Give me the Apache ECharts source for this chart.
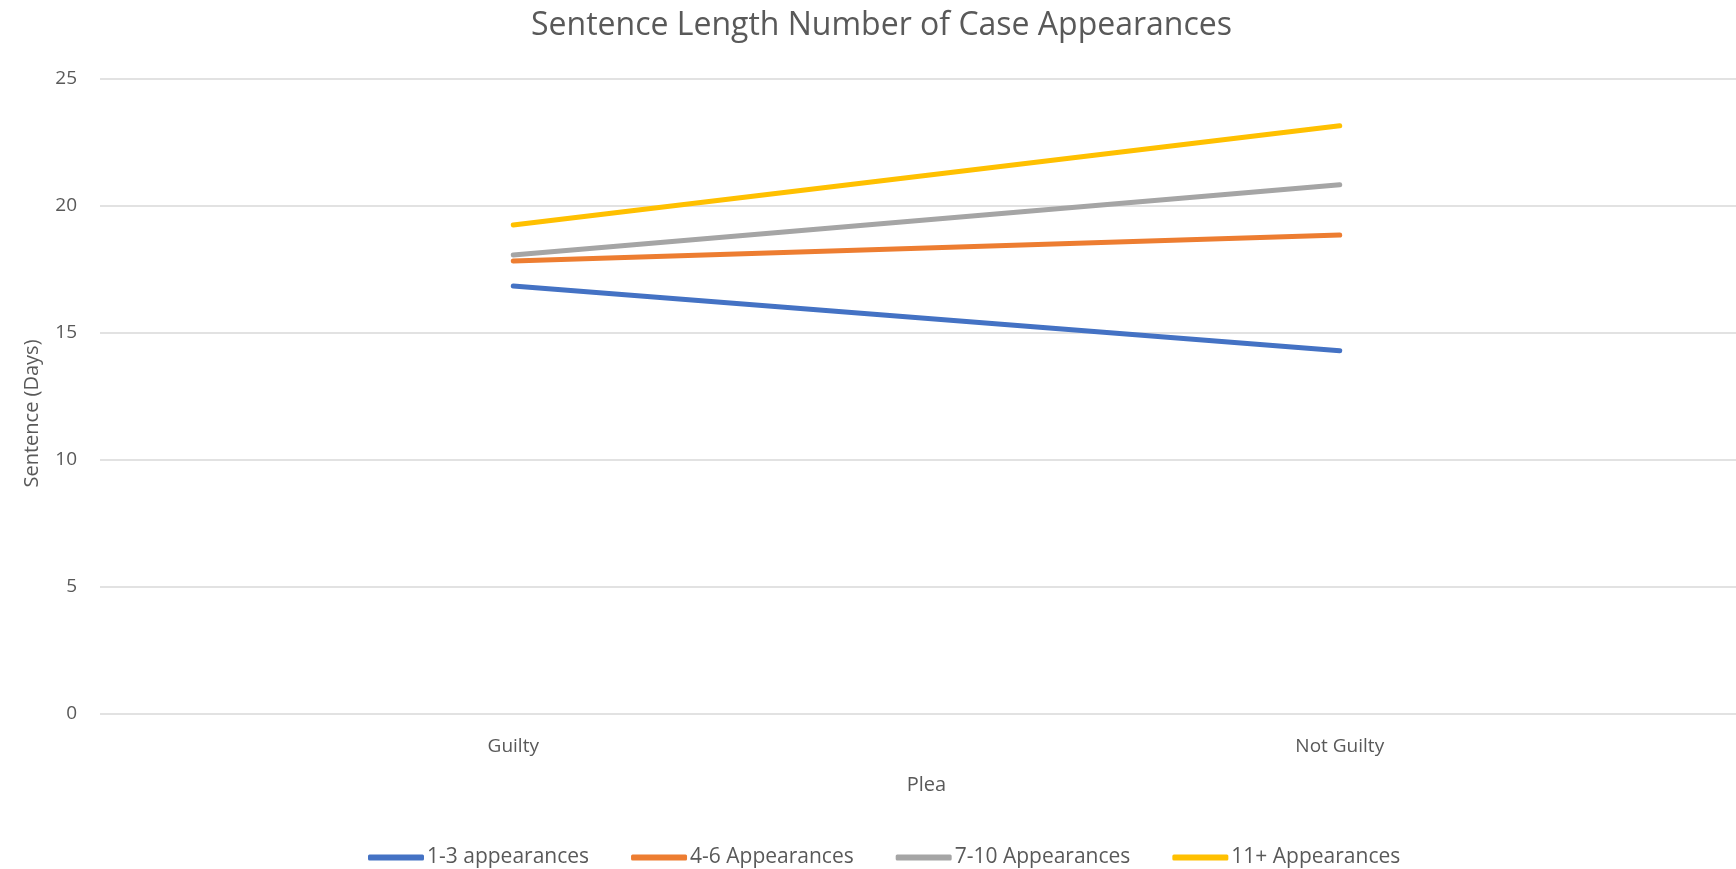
<!DOCTYPE html>
<html lang="en">
<head>
    <meta charset="UTF-8">
    <title>Sentence Length</title>
    <script src="https://cdn.jsdelivr.net/npm/echarts@6/dist/echarts.min.js"></script>
    <style>
        *{
            margin: 0;
            padding: 0;
        }
        html,body{
            width: 100%;
            height: 100%;
            background: #fff;
        }
        .container{
            width: 1736px;
            height: 869px;
        }
    </style>
</head>
<body>
<div class="container"></div>
<script>
    // data
    let pleas = ['Guilty', 'Not Guilty'];
    let seriesNames = ['1-3 appearances', '4-6 Appearances', '7-10 Appearances', '11+ Appearances'];
    let appear1to3 = [16.85, 14.30];
    let appear4to6 = [17.83, 18.86];
    let appear7to10 = [18.07, 20.84];
    let appear11plus = [19.25, 23.16];
    let yTicks = [0, 5, 10, 15, 20, 25];

    let colors = ['#4472C4', '#ED7D31', '#A5A5A5', '#FFC000'];
    let values = [appear1to3, appear4to6, appear7to10, appear11plus];
    let font = '"Open Sans", sans-serif';
    let textColor = '#595959';

    let chart = echarts.init(document.querySelector('.container'));

    let series = seriesNames.map((name, i) => ({
        name: name,
        type: 'line',
        data: values[i],
        symbol: 'none',
        showSymbol: false,
        lineStyle: {
            width: 5,
            color: colors[i],
            cap: 'round'
        },
        itemStyle: {color: colors[i]},
        emphasis: {disabled: true}
    }));

    let option = {
        backgroundColor: '#fff',
        animation: false,
        title: {
            text: 'Sentence Length Number of Case Appearances',
            left: 526,
            top: 5,
            textStyle: {
                fontFamily: font,
                fontSize: 32,
                fontWeight: 'normal',
                color: textColor
            }
        },
        grid: {
            left: 100,
            right: -17,
            top: 79,
            bottom: 155,
            containLabel: false,
            outerBoundsMode: 'none'
        },
        xAxis: {
            type: 'category',
            data: pleas,
            boundaryGap: true,
            name: 'Plea',
            nameLocation: 'middle',
            nameGap: 61,
            nameMoveOverlap: false,
            nameTextStyle: {fontFamily: font, fontSize: 20, color: textColor},
            axisLine: {show: false},
            axisTick: {show: false},
            axisLabel: {fontFamily: font, fontSize: 19, color: textColor, margin: 23},
            splitLine: {show: false}
        },
        yAxis: {
            type: 'value',
            min: yTicks[0],
            max: yTicks[yTicks.length - 1],
            interval: 5,
            name: 'Sentence (Days)',
            nameLocation: 'middle',
            nameRotate: 90,
            nameGap: 58,
            nameMoveOverlap: false,
            nameTextStyle: {fontFamily: font, fontSize: 20, color: textColor, padding: [0, 34, 0, 0]},
            axisLine: {show: false},
            axisTick: {show: false},
            axisLabel: {fontFamily: font, fontSize: 19, color: textColor, margin: 23},
            splitLine: {lineStyle: {color: '#d9d9d9', width: 1.5}}
        },
        legend: {
            data: seriesNames,
            top: 842,
            left: 363,
            itemWidth: 56,
            itemHeight: 6,
            itemGap: 42,
            icon: 'roundRect',
            textStyle: {fontFamily: font, fontSize: 21, color: textColor, padding: [0, 0, 0, -2]}
        },
        series
    };
    chart.setOption(option);
</script>
</body>
</html>
